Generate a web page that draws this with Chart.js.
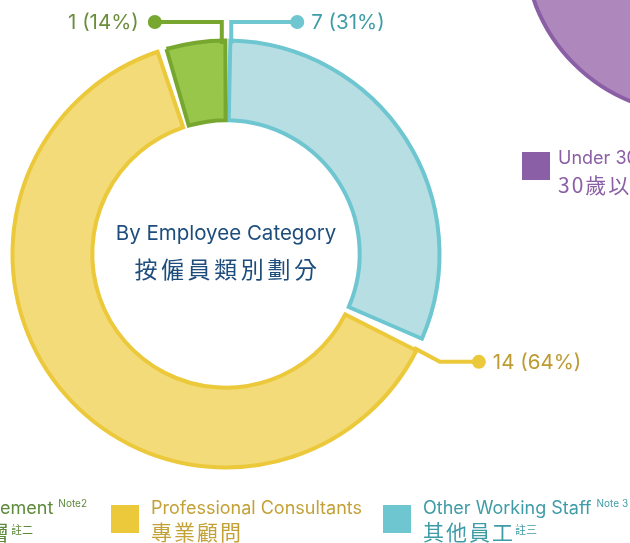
<!DOCTYPE html>
<html>
<head>
<meta charset="utf-8">
<script src="https://cdn.jsdelivr.net/npm/chart.js@4.4.0/dist/chart.umd.min.js"></script>
<style>
  html, body { margin: 0; padding: 0; background: #fff; }
  body { width: 630px; height: 543px; position: relative; overflow: hidden;
         font-family: Inter, "Noto Sans CJK TC", sans-serif; }
  canvas { position: absolute; }
  .title-en { position: absolute; left: 0; width: 452px; top: 221px; line-height: 24px; text-align: center;
              font-size: 20.5px; color: #1d4d7c; }
  .title-zh { position: absolute; left: 0; width: 455px; top: 254px; line-height: 28px; text-align: center;
              font-size: 23px; letter-spacing: 3.6px; color: #1d4d7c; font-family: "Noto Sans CJK TC", sans-serif; }
  .box { position: absolute; width: 28px; height: 28px; }
  .txt { position: absolute; white-space: nowrap; }
  .en { font-size: 18px; line-height: 22px; height: 22px; }
  .zh { font-size: 21px; line-height: 24px; height: 24px; letter-spacing: 2px; font-family: "Noto Sans CJK TC", sans-serif; }
  .en sup { font-size: 10px; line-height: 0; position: relative; top: -7px; vertical-align: baseline; margin-left: 5px; }
  .zh sup { font-size: 11px; line-height: 0; position: relative; top: -6px; vertical-align: baseline; margin-left: 0; letter-spacing: 0; }
</style>
</head>
<body>
<canvas id="other" width="360" height="360"></canvas>
<canvas id="donut" width="630" height="543"></canvas>
<div class="title-en" id="titleEn"></div>
<div class="title-zh" id="titleZh"></div>
<div id="legend"></div>
<script>
// categories in drawing order (clockwise from 12 o'clock)
const categoriesEn = ['Other Working Staff', 'Professional Consultants', 'Management'];
const categoriesZh = ['其他員工', '專業顧問', '管理層'];
const notesEn = ['Note 3', '', 'Note2'];
const notesZh = ['註三', '', '註二'];
const headcount = [7, 14, 1];
const percentLabels = ['31%', '64%', '14%'];

// neighbouring (cropped) chart: age group
const ageCategoriesEn = ['Under 30'];
const ageCategoriesZh = ['30歲以下'];
const ageValues = [1];

const titleEn = 'By Employee Category';
const titleZh = '按僱員類別劃分';

const fills = ['#b7dfe3', '#f3db79', '#98c64a'];
const borders = ['#6ec6d0', '#ebc93b', '#77a72f'];
const labelColors = ['#3f9ca7', '#bd9b30', '#6b8e3d'];

// leader line shapes per slice
const leaders = [
  { from: 'start', nudge: 0.025, dx: 0, dy: -22, run: 66 },
  { from: 'start', nudge: 0.035, dx: 26, dy: 14, run: 39 },
  { from: 'end', nudge: 0.02, dx: 0, dy: -22, run: -67 }
];

document.getElementById('titleEn').textContent = titleEn;
document.getElementById('titleZh').textContent = titleZh;

const leaderPlugin = {
  id: 'leaders',
  afterDatasetsDraw(chart) {
    const ctx = chart.ctx;
    const arcs = chart.getDatasetMeta(0).data;
    arcs.forEach((arc, i) => {
      const s = leaders[i];
      const a = s.from === 'start' ? arc.startAngle + s.nudge : arc.endAngle - s.nudge;
      const r = arc.outerRadius;
      const x0 = arc.x + Math.cos(a) * r;
      const y0 = arc.y + Math.sin(a) * r;
      const x1 = x0 + s.dx, y1 = y0 + s.dy;
      const x2 = x1 + s.run;
      ctx.save();
      ctx.strokeStyle = borders[i];
      ctx.lineWidth = 4;
      ctx.lineJoin = 'miter';
      ctx.beginPath();
      ctx.moveTo(x0, y0);
      ctx.lineTo(x1, y1);
      ctx.lineTo(x2, y1);
      ctx.stroke();
      ctx.fillStyle = borders[i];
      ctx.beginPath();
      ctx.arc(x2, y1, 7, 0, Math.PI * 2);
      ctx.fill();
      ctx.font = '20.5px Inter';
      ctx.fillStyle = labelColors[i];
      ctx.textBaseline = 'middle';
      const text = headcount[i] + ' (' + percentLabels[i] + ')';
      if (s.run > 0) {
        ctx.textAlign = 'left';
        ctx.fillText(text, x2 + 14, y1 + 1);
      } else {
        ctx.textAlign = 'right';
        ctx.fillText(text, x2 - 16, y1 + 1);
      }
      ctx.restore();
    });
  }
};

new Chart(document.getElementById('donut'), {
  type: 'doughnut',
  data: {
    labels: categoriesEn,
    datasets: [{
      data: headcount,
      backgroundColor: fills,
      borderColor: borders,
      borderWidth: 4,
      borderJoinStyle: 'miter'
    }]
  },
  options: {
    responsive: false,
    animation: false,
    radius: 210,
    cutout: '62%',
    spacing: 7,
    layout: { padding: { left: 0, right: 178, top: 0, bottom: 35 } },
    plugins: { legend: { display: false }, tooltip: { enabled: false } }
  },
  plugins: [leaderPlugin]
});

// the next chart along, mostly off the page
const otherCanvas = document.getElementById('other');
otherCanvas.style.left = '515px';
otherCanvas.style.top = '-237px';
new Chart(otherCanvas, {
  type: 'pie',
  data: {
    labels: ageCategoriesEn,
    datasets: [{ data: ageValues, backgroundColor: '#ae88bc', borderColor: '#8b5fa5', borderWidth: 4 }]
  },
  options: {
    responsive: false,
    animation: false,
    radius: 171,
    plugins: { legend: { display: false }, tooltip: { enabled: false } }
  }
});

// legends (html)
const legend = document.getElementById('legend');
const legendPos = [
  { box: 383, y: 505, textTop: 497, gap: 40, zhGap: 0 },
  { box: 111, y: 505, textTop: 497, gap: 40, zhGap: 0 },
  { right: 543, y: 505, textTop: 497, zhGap: 0 }
];
function addItem(en, zh, nEn, nZh, color, textColor, pos) {
  const t = document.createElement('div');
  t.className = 'txt';
  t.style.color = textColor;
  t.innerHTML = '<div class="en">' + en + (nEn ? '<sup>' + nEn + '</sup>' : '') + '</div>' +
    '<div class="zh" style="margin-top:' + pos.zhGap + 'px">' + zh + (nZh ? '<sup>' + nZh + '</sup>' : '') + '</div>';
  t.style.top = pos.textTop + 'px';
  if (pos.box !== undefined) {
    const b = document.createElement('div');
    b.className = 'box';
    b.style.left = pos.box + 'px';
    b.style.top = pos.y + 'px';
    b.style.background = color;
    legend.appendChild(b);
    t.style.left = (pos.box + pos.gap) + 'px';
  } else {
    t.style.right = pos.right + 'px';
  }
  legend.appendChild(t);
}
const legendTextColors = ['#3f9ca7', '#c4a137', '#5e8a3c'];
categoriesEn.forEach((c, i) => {
  addItem(c, categoriesZh[i], notesEn[i], notesZh[i], borders[i], legendTextColors[i], legendPos[i]);
});
addItem(ageCategoriesEn[0], ageCategoriesZh[0], '', '', '#8b5fa5', '#8b5fa5',
  { box: 522, y: 152, textTop: 147, gap: 36, zhGap: 3 });
</script>
</body>
</html>
